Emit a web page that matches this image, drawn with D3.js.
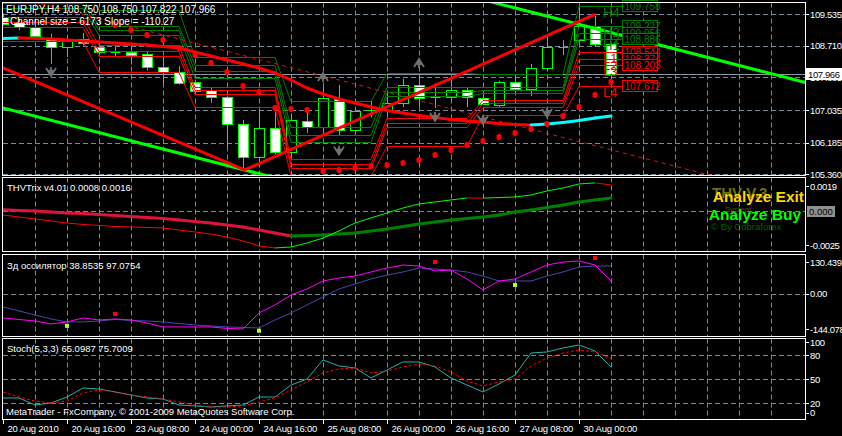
<!DOCTYPE html>
<html><head><meta charset="utf-8">
<script src="https://cdn.jsdelivr.net/npm/d3@7"></script>
<style>body{margin:0;background:#000;overflow:hidden}svg{display:block}text{font-family:"Liberation Sans",Arial,sans-serif}</style>
</head><body>
<svg id="c" width="842" height="436"></svg>
<script>
// ---------- DATA ----------
const timeLabels = ["20 Aug 2010","20 Aug 16:00","23 Aug 08:00","24 Aug 00:00","24 Aug 16:00","25 Aug 08:00","26 Aug 00:00","26 Aug 16:00","27 Aug 08:00","30 Aug 00:00"];
const timeLabelBars = [0,4,8,12,16,20,24,28,32,36];

const open  = [109.46,109.33,109.20,108.89,108.68,108.88,108.68,108.56,108.55,108.50,108.16,108.03,107.77,107.56,107.38,106.67,105.81,106.57,105.94,106.75,106.59,107.32,106.51,107.02,107.04,107.22,107.69,107.37,107.38,107.56,107.35,107.17,107.77,107.59,108.13,108.68,108.86,109.23,108.75];
const high  = [109.56,109.42,109.26,109.03,108.95,109.05,108.73,108.68,108.79,108.56,108.42,108.18,107.82,107.62,107.40,106.78,107.06,107.09,106.95,106.99,107.64,107.69,107.11,107.27,107.50,107.85,107.97,107.74,107.85,107.64,107.48,107.80,107.95,108.24,108.92,108.86,109.76,109.50,108.75];
const low   = [109.24,109.12,108.90,108.24,108.42,108.72,108.50,108.42,108.22,108.06,107.70,107.70,107.48,107.22,106.05,105.47,105.65,105.88,105.85,106.44,106.44,106.36,106.46,106.84,106.91,107.11,107.11,107.09,107.30,107.11,107.17,107.11,107.48,107.40,108.05,108.47,108.80,108.70,107.822];
const close = [109.28,109.20,108.97,108.68,108.86,108.78,108.55,108.55,108.47,108.16,108.03,107.74,107.53,107.38,106.67,105.81,106.57,105.94,106.78,106.59,107.35,106.51,107.01,107.04,107.22,107.69,107.35,107.38,107.56,107.38,107.19,107.77,107.59,108.13,108.68,108.69,109.23,108.75,107.966];

const maLine = [108.903,108.916,108.908,108.890,108.864,108.838,108.812,108.786,108.760,108.733,108.694,108.655,108.551,108.446,108.342,108.237,108.133,108.003,107.820,107.611,107.454,107.324,107.219,107.115,107.023,106.958,106.893,106.840,106.788,106.749,106.723,106.684,106.658,106.645,106.671,106.710,106.762,106.827,106.880];

const sar = [null,null,null,null,null,null,null,109.256,109.125,108.995,108.864,108.655,108.472,108.264,108.029,107.663,107.506,107.089,107.062,107.036,105.444,105.470,105.522,105.574,105.600,105.653,105.731,105.861,105.992,106.122,106.227,106.331,106.436,106.540,106.671,106.880,107.115,107.428,107.767];

const fracBars = [3,20,21,26,27,30,34];
const fracVals = [108.028,107.898,105.975,108.263,106.854,106.775,106.958];
const fracDir  = ["d","u","d","u","d","d","d"];

const zigzagBars = [0,15.1,37];
const zigzagVals = [108.133,105.47,109.535];

const channelBars  = [0,50.2];
const channelUpper = [113.13,107.75];
const channelMid   = [110.07,104.69];
const channelLower = [107.09,101.71];

const dayStart = [0,6,12,18,24,30,36];
const dayEnd   = [5,11,17,23,29,35,38.7];
const pivH4 = [110.326,109.647,108.420,107.271,108.002,107.976,109.758];
const pivH3 = [109.961,109.230,108.211,106.593,107.638,107.638,109.227];
const pivH2 = [109.830,109.125,108.055,106.384,107.506,107.559,109.056];
const pivH1 = [109.699,108.995,107.873,106.201,107.402,107.480,108.886];
const pivL1 = [109.465,108.733,107.638,105.757,106.830,107.297,108.544];
const pivL2 = [109.334,108.577,107.559,105.627,106.697,107.219,108.374];
const pivL3 = [109.203,108.446,107.454,105.522,106.593,107.115,108.203];
const pivL4 = [108.838,108.028,107.115,105.300,106.097,106.908,107.672];
const pivNames = ["H4","H3","H2","H1","L1","L2","L3","L4"];

const priceTicks = [109.535,108.710,107.885,107.035,106.185,105.360];
const priceTickLabels = ["109.535","108.710","107.885","107.035","106.185","105.360"];
const lastPrice = 107.966;

const thvFast = [-0.00026,-0.00041,-0.00056,-0.00071,-0.00086,-0.00097,-0.00104,-0.00112,-0.00116,-0.00119,-0.00123,-0.00138,-0.00153,-0.00168,-0.00190,-0.00220,-0.00257,-0.00272,-0.00265,-0.00235,-0.00198,-0.00145,-0.00086,-0.00048,-0.00011,0.00026,0.00056,0.00071,0.00086,0.00101,0.00100,0.00104,0.00108,0.00123,0.00153,0.00175,0.00205,0.00213,0.00198];
const thvSlow = [0.00013,0.00007,0.00004,-0.00004,-0.00011,-0.00015,-0.00022,-0.00030,-0.00037,-0.00045,-0.00052,-0.00063,-0.00075,-0.00086,-0.00101,-0.00116,-0.00138,-0.00160,-0.00183,-0.00179,-0.00175,-0.00168,-0.00160,-0.00145,-0.00131,-0.00112,-0.00093,-0.00078,-0.00063,-0.00052,-0.00041,-0.00026,-0.00004,0.00011,0.00030,0.00048,0.00071,0.00086,0.00101];
const thvTicks = [0.0019,0,-0.0025];
const thvTickLabels = ["0.0019","0.000","-0.0025"];

const osc1 = [-97.8,-104.0,-110.1,-122.3,-114.1,-97.8,-106.0,-101.9,-106.0,-118.2,-134.5,-134.5,-134.5,-134.5,-140.6,-142.7,-77.5,-44.8,-4.1,20.4,53.0,65.2,73.4,89.7,106.0,118.2,114.1,93.8,97.8,61.1,16.3,53.0,61.1,89.7,118.2,130.5,134.5,118.2,53.0];
const osc2 = [-53.0,-69.3,-85.6,-101.9,-114.1,-114.1,-110.1,-104.0,-108.0,-110.1,-114.1,-120.3,-126.4,-130.5,-134.5,-136.6,-138.6,-106.0,-77.5,-44.8,-12.2,20.4,40.8,61.1,77.5,89.7,106.0,101.9,97.8,89.7,73.4,53.0,53.0,53.0,73.4,89.7,110.1,114.1,114.1];
const oscBuyBars = [4,16,32];
const oscBuyVals = [-130,-150,36.7];
const oscSellBars = [7,27,37];
const oscSellVals = [-81.5,130.5,146.8];
const oscTicks = [130.439,0,-144.078];
const oscTickLabels = ["130.439","0.00","-144.078"];

const stochMain = [26.3,26.3,17.5,20,27.5,38.8,37.5,33.8,30,26.3,25,17.5,16.3,15,16.3,17.5,27.5,27.5,42.5,50,73.8,66.3,63.8,51.3,61.3,71.3,71.3,65,51.3,42.5,33.8,43.8,55,82.5,83.8,88.8,92.5,85,65.1];
const stochSignal = [33.8,27.5,22.5,20,22.5,32.5,36.3,33.8,30,27.5,25,21.3,17.5,15,15,16.3,21.3,26.3,36.3,46.3,57.5,62.5,63.8,57.5,60,65,68.8,66.3,58.8,47.5,41.3,46.3,50,66.3,76.3,82.5,86.3,83.8,75.7];
const stochTicks = [100,80,50,20,0];
const stochTickPos = [96,80,50,20,8];
const stochLevels = [80,50,20];

// ---------- LAYOUT ----------
const svg = d3.select("#c");
svg.append("rect").attr("width",842).attr("height",436).attr("fill","#000");
const L = 3, R = 805;
const panels = {
  main: [2.5,175.5], thv: [177.5,251.5], osc: [254.5,336.5], sto: [338.5,419.5]
};
const x = d3.scaleLinear().domain([0,50.125]).range([L,R]);
const yP = d3.scaleLinear().domain([105.339,109.830]).range([175,3]);
const yT = d3.scaleLinear().domain([-0.0025,0.0019]).range([245,186]);
const yO = d3.scaleLinear().domain([-144.078,130.439]).range([329.3,262]);
const yS = d3.scaleLinear().domain([0,100]).range([419,339]);
const N = close.length;
const GRID = "#778899";

const defs = svg.append("defs");
Object.entries(panels).forEach(([k,[t,b]])=>{
  defs.append("clipPath").attr("id","clip-"+k).append("rect")
    .attr("x",L).attr("y",t+0.5).attr("width",R-L).attr("height",b-t-1);
});

function panelG(k){ return svg.append("g").attr("clip-path",`url(#clip-${k})`); }

// vertical grid
Object.entries(panels).forEach(([k,[t,b]])=>{
  const g = panelG(k);
  d3.range(2,50,2).forEach(i=>{
    g.append("line").attr("x1",x(i)+0.5).attr("x2",x(i)+0.5).attr("y1",t).attr("y2",b)
      .attr("stroke",GRID).attr("stroke-dasharray","5,3");
  });
});

// ---------- MAIN PANEL ----------
const gm = panelG("main");
priceTicks.forEach(p=>{
  gm.append("line").attr("x1",L).attr("x2",R).attr("y1",Math.round(yP(p))+0.5).attr("y2",Math.round(yP(p))+0.5)
    .attr("stroke",GRID).attr("stroke-dasharray","5,3");
});
// last price line
gm.append("line").attr("x1",L).attr("x2",R).attr("y1",Math.round(yP(lastPrice))+0.5).attr("y2",Math.round(yP(lastPrice))+0.5)
  .attr("stroke","#8a99a8").attr("stroke-width",1);

// title text (under lines)
svg.append("text").attr("x",6).attr("y",13).attr("fill","#fff").attr("font-size",10)
  .text("EURJPY,H4  108.750 108.750 107.822 107.966");

// candles
const cg = gm.append("g");
for(let i=0;i<N;i++){
  const cx = Math.round(x(i))+0.5;
  cg.append("line").attr("x1",cx).attr("x2",cx).attr("y1",yP(high[i])).attr("y2",yP(low[i]))
    .attr("stroke","#00ff00");
  const top = yP(Math.max(open[i],close[i])), bot = yP(Math.min(open[i],close[i]));
  if(bot-top < 1.5){
    cg.append("line").attr("x1",cx-5).attr("x2",cx+5).attr("y1",Math.round(top)+0.5).attr("y2",Math.round(top)+0.5)
      .attr("stroke","#00ff00");
  } else {
    cg.append("rect").attr("x",cx-5).attr("y",Math.round(top)+0.5).attr("width",10).attr("height",Math.round(bot)-Math.round(top))
      .attr("fill", close[i] < open[i] ? "#fff" : "#000").attr("stroke","#00ff00");
  }
}

// pivot levels
const pivAll = [pivH4,pivH3,pivH2,pivH1,pivL1,pivL2,pivL3,pivL4];
const pivLine = d3.line().x(d=>x(d[0])).y(d=>Math.round(yP(d[1]))+0.5);
pivAll.forEach((lv,k)=>{
  const pts = [];
  lv.forEach((v,d)=>{ pts.push([dayStart[d],v]); pts.push([dayEnd[d],v]); });
  gm.append("path").attr("d",pivLine(pts)).attr("fill","none")
    .attr("stroke", k<4 ? "#008000" : "#ff0000").attr("stroke-width",1);
});

// channel
const chLine = d3.line().x((d,i)=>x(channelBars[i])).y(d=>yP(d));
gm.append("path").attr("d",chLine(channelUpper)).attr("stroke","#00ff00").attr("stroke-width",3).attr("fill","none");
gm.append("path").attr("d",chLine(channelLower)).attr("stroke","#00ff00").attr("stroke-width",3).attr("fill","none");
gm.append("path").attr("d",chLine(channelMid)).attr("stroke","#ff0000").attr("stroke-width",1).attr("stroke-dasharray","4,4").attr("fill","none");

// zigzag
const zz = d3.line().x((d,i)=>x(zigzagBars[i])).y(d=>yP(d));
gm.append("path").attr("d",zz(zigzagVals)).attr("stroke","#ff0000").attr("stroke-width",3).attr("fill","none");

// MA coloured by slope
for(let i=1;i<N;i++){
  gm.append("line").attr("x1",x(i-1)).attr("x2",x(i)).attr("y1",yP(maLine[i-1])).attr("y2",yP(maLine[i]))
    .attr("stroke", maLine[i] >= maLine[i-1] ? "#00ffff" : "#ff0000").attr("stroke-width",3).attr("stroke-linecap","round");
}

// SAR dots
sar.forEach((v,i)=>{
  if(v==null) return;
  gm.append("rect").attr("x",x(i)-2.5).attr("y",yP(v)-2).attr("width",5).attr("height",4).attr("fill","#ff0000");
  gm.append("rect").attr("x",x(i)-1.5).attr("y",yP(v)-3).attr("width",3).attr("height",6).attr("fill","#ff0000");
});

// fractals
fracBars.forEach((b,k)=>{
  const cx = x(b), cy = yP(fracVals[k]);
  const s = fracDir[k]==="u" ? 1 : -1;
  gm.append("path").attr("d",`M${cx-5},${cy+4*s} L${cx},${cy-4*s} L${cx+5},${cy+4*s} M${cx-2},${cy+2*s} L${cx},${cy-1*s} L${cx+2},${cy+2*s} M${cx},${cy-1*s} L${cx},${cy+5*s}`)
    .attr("stroke","#707070").attr("stroke-width",1.8).attr("fill","none");
});

// pivot labels for last day
pivAll.forEach((lv,k)=>{
  const v = lv[lv.length-1];
  const yy = yP(v);
  const col = k<4 ? "#008000" : "#ff0000";
  gm.append("text").attr("x",603).attr("y",yy+11).attr("fill",col)
    .attr("font-family","'Liberation Serif','DejaVu Serif',serif").attr("font-size",13).text(pivNames[k]);
});
pivAll.forEach((lv,k)=>{
  const v = lv[lv.length-1];
  const yy = Math.round(yP(v));
  const col = k<4 ? "#008000" : "#ff0000";
  svg.append("rect").attr("x",622.5).attr("y",yy-5.5).attr("width",35).attr("height",11).attr("fill","#000").attr("stroke",col);
  svg.append("text").attr("x",624.5).attr("y",yy+4).attr("fill",col).attr("font-size",10).text(v.toFixed(3));
});

svg.append("text").attr("x",10).attr("y",25).attr("fill","#fff").attr("font-size",10)
  .text("Channel size = 6173 Slope = -110.27");

// ---------- THV PANEL ----------
const gt = panelG("thv");
gt.append("line").attr("x1",L).attr("x2",R).attr("y1",Math.round(yT(0))+0.5).attr("y2",Math.round(yT(0))+0.5)
  .attr("stroke",GRID).attr("stroke-dasharray","5,3");
for(let i=1;i<N;i++){
  gt.append("line").attr("x1",x(i-1)).attr("x2",x(i)).attr("y1",yT(thvSlow[i-1])).attr("y2",yT(thvSlow[i]))
    .attr("stroke", thvSlow[i] > thvSlow[i-1] ? "#008000" : "#dc143c").attr("stroke-width",3).attr("stroke-linecap","round");
}
for(let i=1;i<N;i++){
  gt.append("line").attr("x1",x(i-1)).attr("x2",x(i)).attr("y1",yT(thvFast[i-1])).attr("y2",yT(thvFast[i]))
    .attr("stroke", thvFast[i] > thvFast[i-1] ? "#00ff00" : "#ff0000").attr("stroke-width",1);
}
svg.append("text").attr("x",7).attr("y",191).attr("fill","#fff").attr("font-size",9.5).text("THVTrix v4.01 0.0008 0.0016");
svg.append("text").attr("x",712).attr("y",198).attr("fill","#707000").attr("font-size",15).attr("font-weight","bold")
  .attr("font-family","'DejaVu Sans',sans-serif").text("THV V.3");
svg.append("text").attr("x",804).attr("y",202).attr("text-anchor","end").attr("fill","#ffd700").attr("font-size",15.5).attr("font-weight","bold")
  .attr("font-family","'DejaVu Sans',sans-serif").text("Analyze Exit");
svg.append("text").attr("x",738).attr("y",212).attr("text-anchor","middle").attr("fill","#505000").attr("font-size",8).text("System");
svg.append("text").attr("x",801).attr("y",220).attr("text-anchor","end").attr("fill","#00ff00").attr("font-size",15.5).attr("font-weight","bold")
  .attr("font-family","'DejaVu Sans',sans-serif").text("Analyze Buy");
svg.append("text").attr("x",711).attr("y",230).attr("fill","#006400").attr("font-size",9.5).text("© By Cobraforex");

// ---------- OSC PANEL ----------
const go = panelG("osc");
go.append("line").attr("x1",L).attr("x2",R).attr("y1",Math.round(yO(0))+0.5).attr("y2",Math.round(yO(0))+0.5)
  .attr("stroke",GRID).attr("stroke-dasharray","5,3");
const lo2 = d3.line().x((d,i)=>x(i)).y(d=>yO(d));
go.append("path").attr("d",lo2(osc2)).attr("stroke","#4848a8").attr("fill","none");
go.append("path").attr("d",lo2(osc1)).attr("stroke","#ff00ff").attr("fill","none");
oscBuyBars.forEach((b,k)=>go.append("rect").attr("x",x(b)-2).attr("y",yO(oscBuyVals[k])-2).attr("width",4).attr("height",4).attr("fill","#adff2f"));
oscSellBars.forEach((b,k)=>go.append("rect").attr("x",x(b)-2).attr("y",yO(oscSellVals[k])-2).attr("width",4).attr("height",4).attr("fill","#ff0000"));
svg.append("text").attr("x",7).attr("y",269).attr("fill","#fff").attr("font-size",9.5).text("Зд оссилятор 38.8535 97.0754");

// ---------- STOCH PANEL ----------
const gs = panelG("sto");
stochLevels.forEach(v=>{
  gs.append("line").attr("x1",L).attr("x2",R).attr("y1",Math.round(yS(v))+0.5).attr("y2",Math.round(yS(v))+0.5)
    .attr("stroke",GRID).attr("stroke-dasharray","5,3");
});
const ls = d3.line().x((d,i)=>x(i)).y(d=>yS(d));
gs.append("path").attr("d",ls(stochMain)).attr("stroke","#20b2aa").attr("fill","none");
gs.append("path").attr("d",ls(stochSignal)).attr("stroke","#ff0000").attr("stroke-dasharray","3,2").attr("fill","none");
svg.append("text").attr("x",7).attr("y",352).attr("fill","#fff").attr("font-size",9.5).text("Stoch(5,3,3) 65.0987 75.7009");
svg.append("text").attr("x",6).attr("y",415).attr("fill","#fff").attr("font-size",9.5).text("MetaTrader - FxCompany, © 2001-2009 MetaQuotes Software Corp.");

// ---------- FRAMES ----------
Object.values(panels).forEach(([t,b])=>{
  svg.append("rect").attr("x",2.5).attr("y",t).attr("width",R-2.5+0.5).attr("height",b-t)
    .attr("fill","none").attr("stroke","#fff");
});

// ---------- RIGHT AXES ----------
function rlabel(yv, txt){
  svg.append("line").attr("x1",R).attr("x2",R+4).attr("y1",Math.round(yv)+0.5).attr("y2",Math.round(yv)+0.5).attr("stroke","#fff");
  svg.append("text").attr("x",810).attr("y",yv+3.5).attr("fill","#fff").attr("font-size",9.5).attr("letter-spacing","-0.4px").text(txt);
}
priceTicks.forEach((p,k)=>rlabel(yP(p),priceTickLabels[k]));
{
  const yy = Math.round(yP(lastPrice));
  svg.append("rect").attr("x",806).attr("y",yy-6).attr("width",36).attr("height",12).attr("fill","#fff");
  svg.append("text").attr("x",808).attr("y",yy+4).attr("fill","#000").attr("font-size",9.5).attr("letter-spacing","-0.4px").text(lastPrice.toFixed(3));
}
thvTicks.forEach((v,k)=>{
  if(v===0){
    const yy=Math.round(yT(0));
    svg.append("rect").attr("x",807).attr("y",yy-5).attr("width",28).attr("height",11).attr("fill","#909090");
    svg.append("text").attr("x",809).attr("y",yy+4).attr("fill","#000").attr("font-size",9.5).text(thvTickLabels[k]);
  } else rlabel(yT(v),thvTickLabels[k]);
});
oscTicks.forEach((v,k)=>rlabel(yO(v),oscTickLabels[k]));
stochTicks.forEach((v,k)=>rlabel(yS(stochTickPos[k]),String(v)));

// ---------- TIME AXIS ----------
timeLabelBars.forEach((b,k)=>{
  const xx = Math.round(x(b))+0.5;
  svg.append("line").attr("x1",xx).attr("x2",xx).attr("y1",419.5).attr("y2",424).attr("stroke","#fff");
  svg.append("text").attr("x",xx+4).attr("y",432).attr("fill","#fff").attr("font-size",9.5).attr("letter-spacing","-0.2px").text(timeLabels[k]);
});
</script>
</body></html>
